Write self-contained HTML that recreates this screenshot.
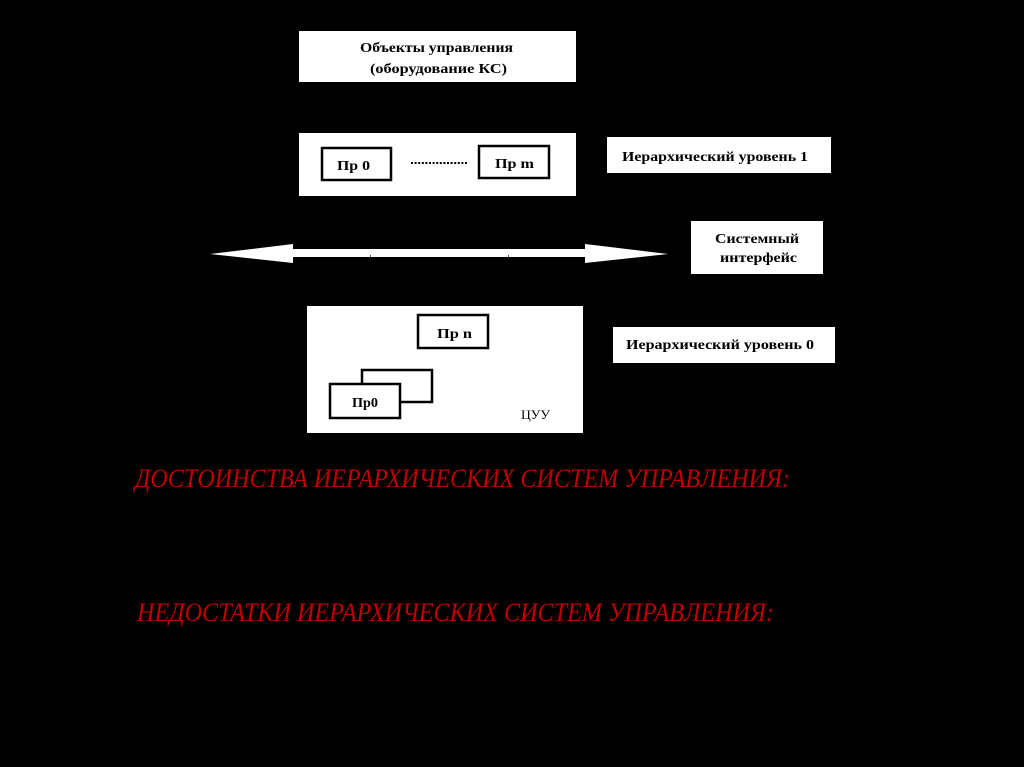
<!DOCTYPE html>
<html><head><meta charset="utf-8"><style>
html,body{margin:0;padding:0;background:#000;}
svg{display:block}
</style></head><body>
<svg width="1024" height="767" viewBox="0 0 1024 767" xmlns="http://www.w3.org/2000/svg">
<rect x="0" y="0" width="1024" height="767" fill="#000"/>
<g font-family="Liberation Serif, 'DejaVu Serif', serif" font-weight="bold" fill="#000">
<!-- Box 1 -->
<rect x="299" y="31" width="277" height="51" fill="#fff"/>
<text x="360" y="52" font-size="14" textLength="153" lengthAdjust="spacingAndGlyphs">Объекты управления</text>
<text x="370" y="73" font-size="14" textLength="137" lengthAdjust="spacingAndGlyphs">(оборудование КС)</text>
<!-- Box 2 -->
<rect x="299" y="133" width="277" height="63" fill="#fff"/>
<rect x="322" y="148" width="69" height="32" fill="#fff" stroke="#000" stroke-width="2.5"/>
<text x="337" y="170" font-size="14" textLength="33" lengthAdjust="spacingAndGlyphs">Пр 0</text>
<rect x="479" y="146" width="70" height="32" fill="#fff" stroke="#000" stroke-width="2.5"/>
<text x="495" y="168" font-size="14" textLength="39" lengthAdjust="spacingAndGlyphs">Пр m</text>
<line x1="411" y1="163" x2="468" y2="163" stroke="#000" stroke-width="2" stroke-dasharray="2,1.6"/>
<!-- Level 1 -->
<rect x="607" y="137" width="224" height="36" fill="#fff"/>
<text x="622" y="161" font-size="14" textLength="186" lengthAdjust="spacingAndGlyphs">Иерархический уровень 1</text>
<!-- Arrow -->
<polygon points="210,254 293,244 293,249 585,249 585,244 668,254 585,263 585,257 293,257 293,263" fill="#fff"/>
<rect x="370" y="255" width="1" height="2" fill="#555"/>
<rect x="508" y="255" width="1" height="2" fill="#555"/>
<!-- System interface -->
<rect x="691" y="221" width="132" height="53" fill="#fff"/>
<text x="715" y="243" font-size="14" textLength="84" lengthAdjust="spacingAndGlyphs">Системный</text>
<text x="720" y="262" font-size="14" textLength="77" lengthAdjust="spacingAndGlyphs">интерфейс</text>
<!-- Level 0 -->
<rect x="613" y="327" width="222" height="36" fill="#fff"/>
<text x="626" y="349" font-size="14" textLength="188" lengthAdjust="spacingAndGlyphs">Иерархический уровень 0</text>
<!-- CUU box -->
<rect x="307" y="306" width="276" height="127" fill="#fff"/>
<rect x="418" y="315" width="70" height="33" fill="#fff" stroke="#000" stroke-width="2.5"/>
<text x="437" y="338" font-size="14" textLength="35" lengthAdjust="spacingAndGlyphs">Пр n</text>
<rect x="362" y="370" width="70" height="32" fill="#fff" stroke="#000" stroke-width="2.5"/>
<rect x="330" y="384" width="70" height="34" fill="#fff" stroke="#000" stroke-width="2.5"/>
<text x="352" y="407" font-size="14" textLength="26" lengthAdjust="spacingAndGlyphs">Пр0</text>
<text x="521" y="419" font-size="13" font-weight="normal" textLength="29" lengthAdjust="spacingAndGlyphs">ЦУУ</text>
</g>
<g font-family="Liberation Serif, 'DejaVu Serif', serif" font-style="italic" fill="#c00000">
<text x="135" y="487" font-size="26" textLength="655" lengthAdjust="spacingAndGlyphs">ДОСТОИНСТВА ИЕРАРХИЧЕСКИХ СИСТЕМ УПРАВЛЕНИЯ:</text>
<text x="137" y="621" font-size="26" textLength="637" lengthAdjust="spacingAndGlyphs">НЕДОСТАТКИ ИЕРАРХИЧЕСКИХ СИСТЕМ УПРАВЛЕНИЯ:</text>
</g>
</svg>
</body></html>
